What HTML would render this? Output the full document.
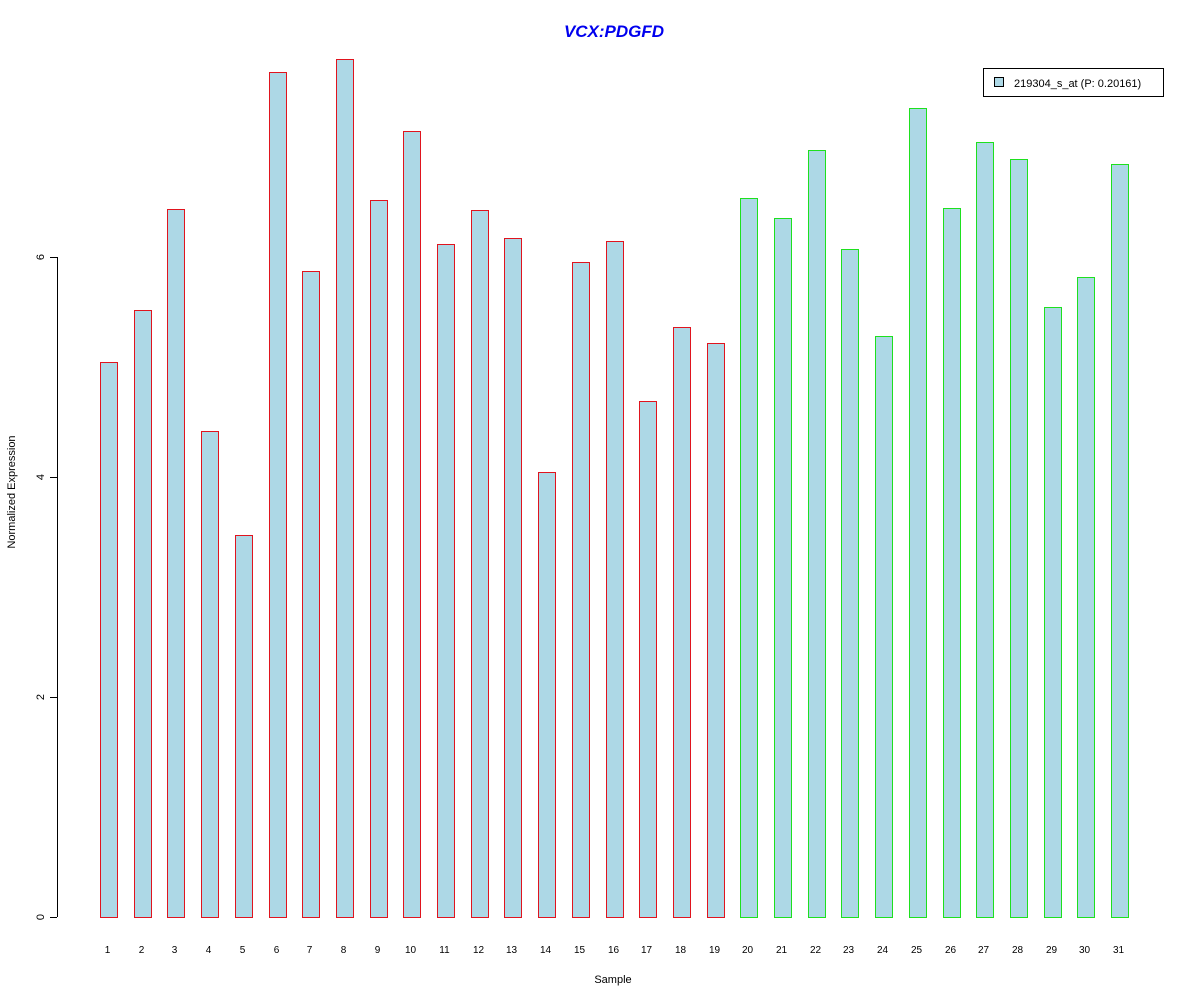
<!DOCTYPE html>
<html><head><style>body{margin:0;background:#fff}svg{display:block}text{font-family:"Liberation Sans",Arial,sans-serif}</style></head>
<body>
<svg width="1200" height="1000" xmlns="http://www.w3.org/2000/svg">
<rect width="1200" height="1000" fill="#fff"/>
<text x="614" y="37" text-anchor="middle" font-size="17" font-weight="bold" font-style="italic" fill="#0000ee">VCX:PDGFD</text>
<g stroke="#000" stroke-width="1" shape-rendering="crispEdges">
<line x1="57.5" y1="257" x2="57.5" y2="917"/>
<line x1="50" y1="917.5" x2="57" y2="917.5"/>
<line x1="50" y1="697.5" x2="57" y2="697.5"/>
<line x1="50" y1="477.5" x2="57" y2="477.5"/>
<line x1="50" y1="257.5" x2="57" y2="257.5"/>
</g>
<g font-size="11" text-anchor="middle">
<text transform="translate(44,917) rotate(-90)">0</text>
<text transform="translate(44,697) rotate(-90)">2</text>
<text transform="translate(44,477) rotate(-90)">4</text>
<text transform="translate(44,257) rotate(-90)">6</text>
<text transform="translate(15,492) rotate(-90)">Normalized Expression</text>
<text x="613" y="983">Sample</text>
</g>
<g id="bars" shape-rendering="crispEdges"></g>
<g id="labels" font-size="10" text-anchor="middle"></g>
<rect x="983.5" y="68.5" width="180" height="28" fill="#fff" stroke="#000" shape-rendering="crispEdges"/>
<rect x="994.5" y="77.5" width="9" height="9" fill="#add8e6" stroke="#000" shape-rendering="crispEdges"/>
<text x="1014" y="87" font-size="11">219304_s_at (P: 0.20161)</text>
<script>
var tops=[362,310,209,431,535,72,271,59,200,131,244,210,238,472,262,241,401,327,343,198,218,150,249,336,108,208,142,159,307,277,164];
var g=document.getElementById('bars'),l=document.getElementById('labels'),ns="http://www.w3.org/2000/svg";
for(var i=0;i<31;i++){var x=Math.round(100+i*33.7);var c=i<19?'#e0141e':'#1ee01e';
var f=document.createElementNS(ns,'rect');f.setAttribute('x',x);f.setAttribute('y',tops[i]);f.setAttribute('width',18);f.setAttribute('height',918-tops[i]);f.setAttribute('fill',c);g.appendChild(f);
var r=document.createElementNS(ns,'rect');r.setAttribute('x',x+1);r.setAttribute('y',tops[i]+1);r.setAttribute('width',16);r.setAttribute('height',916-tops[i]);r.setAttribute('fill','#add8e6');g.appendChild(r);
var t=document.createElementNS(ns,'text');t.setAttribute('x',x+7.5);t.setAttribute('y',953);t.textContent=i+1;l.appendChild(t);}
</script>
</svg>
</body></html>
